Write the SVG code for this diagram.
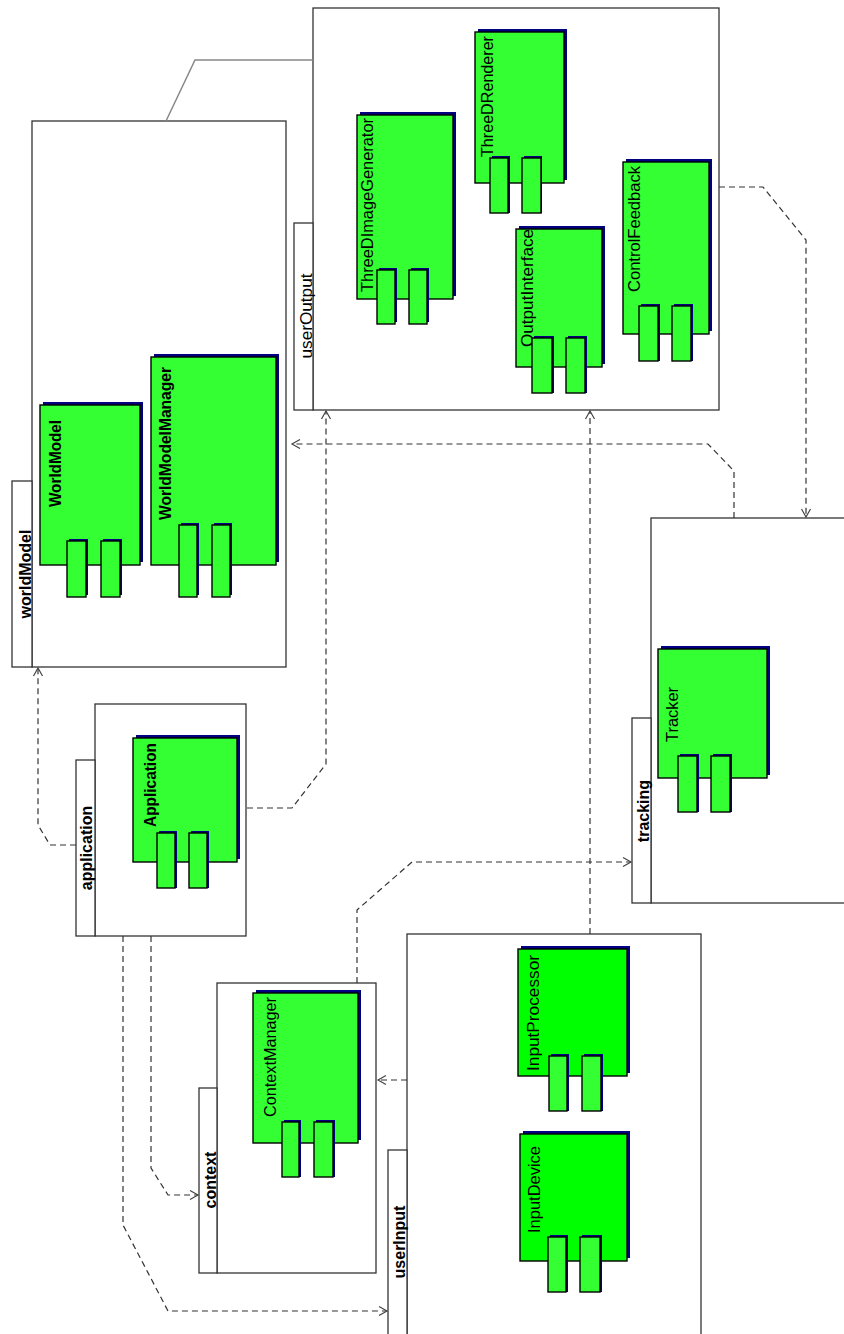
<svg xmlns="http://www.w3.org/2000/svg" width="844" height="1334" viewBox="0 0 844 1334">
<style>
.pkg{fill:#fff;stroke:#333;stroke-width:1.3}
.cmp{fill:#33ff33;stroke:#000;stroke-width:1.4}
.cmp2{fill:#00ff00;stroke:#000;stroke-width:1.4}
.port{fill:#33ff33;stroke:#000;stroke-width:1.4}
.shd{fill:#000080}
.plbl{font-family:"Liberation Sans",Arial,sans-serif;font-size:16px;font-weight:bold;fill:#000}
.plbl.reg{font-weight:normal}
.clbl{font-family:"Liberation Sans",Arial,sans-serif;font-size:16px;fill:#000}
.bold{font-weight:bold}
.dep{fill:none;stroke:#333;stroke-width:1.2;stroke-dasharray:6,4;marker-end:url(#arr)}
</style>
<defs>
<marker id="arr" viewBox="-10 -6 12 12" refX="0" refY="0" markerWidth="12" markerHeight="12" orient="auto" markerUnits="userSpaceOnUse">
<path d="M-8,-4.5 L0,0 L-8,4.5" fill="none" stroke="#444" stroke-width="1.2" stroke-dasharray="none"/>
</marker>
</defs>
<rect width="844" height="1334" fill="#fff"/>

<g id="worldModel">
<rect class="pkg" x="32" y="121" width="254" height="546"/>
<rect class="pkg" x="12" y="481" width="20" height="186"/>
<text class="plbl" transform="translate(31,574) rotate(-90)" text-anchor="middle">worldModel</text>
<g id="WorldModel">
<rect class="shd" x="43" y="402" width="100" height="160"/>
<rect class="cmp" x="40" y="405" width="100" height="160"/>
<rect class="shd" x="69" y="539" width="19" height="56"/><rect class="port" x="67" y="541" width="19" height="56"/>
<rect class="shd" x="103" y="539" width="19" height="56"/><rect class="port" x="101" y="541" width="19" height="56"/>
<text class="clbl bold" transform="translate(61,507) rotate(-90)" textLength="87" lengthAdjust="spacingAndGlyphs">WorldModel</text>
</g>
<g id="WorldModelManager">
<rect class="shd" x="154" y="354" width="125" height="208"/>
<rect class="cmp" x="151" y="357" width="125" height="208"/>
<rect class="shd" x="181" y="523" width="18" height="72"/><rect class="port" x="179" y="525" width="18" height="72"/>
<rect class="shd" x="214" y="523" width="18" height="72"/><rect class="port" x="212" y="525" width="18" height="72"/>
<text class="clbl bold" transform="translate(171,520) rotate(-90)" textLength="153" lengthAdjust="spacingAndGlyphs">WorldModelManager</text>
</g>
</g>

<g id="userOutput">
<rect class="pkg" x="313" y="8" width="406" height="402"/>
<rect class="pkg" x="294" y="223" width="19" height="187"/>
<text class="plbl reg" transform="translate(312,316) rotate(-90)" text-anchor="middle" textLength="85" lengthAdjust="spacingAndGlyphs">userOutput</text>
<g id="ThreeDImageGenerator">
<rect class="shd" x="360" y="112" width="96" height="184"/>
<rect class="cmp" x="357" y="115" width="96" height="184"/>
<rect class="shd" x="379" y="268" width="18" height="54"/><rect class="port" x="377" y="270" width="18" height="54"/>
<rect class="shd" x="411" y="268" width="18" height="54"/><rect class="port" x="409" y="270" width="18" height="54"/>
<text class="clbl" transform="translate(373,292) rotate(-90)" textLength="174" lengthAdjust="spacingAndGlyphs">ThreeDImageGenerator</text>
</g>
<g id="ThreeDRenderer">
<rect class="shd" x="478" y="29" width="89" height="151"/>
<rect class="cmp" x="475" y="32" width="89" height="151"/>
<rect class="shd" x="492" y="156" width="18" height="57"/><rect class="port" x="490" y="158" width="18" height="55"/>
<rect class="shd" x="524" y="156" width="18" height="57"/><rect class="port" x="522" y="158" width="19" height="55"/>
<text class="clbl" transform="translate(493,157) rotate(-90)" textLength="121" lengthAdjust="spacingAndGlyphs">ThreeDRenderer</text>
</g>
<g id="OutputInterface">
<rect class="shd" x="519" y="226" width="86" height="138"/>
<rect class="cmp" x="516" y="229" width="86" height="138"/>
<text class="clbl" transform="translate(533,347) rotate(-90)" textLength="118" lengthAdjust="spacingAndGlyphs">OutputInterface</text>
<rect class="shd" x="534" y="336" width="20" height="57"/><rect class="port" x="532" y="338" width="20" height="55"/>
<rect class="shd" x="568" y="336" width="19" height="57"/><rect class="port" x="566" y="338" width="19" height="55"/>
</g>
<g id="ControlFeedback">
<rect class="shd" x="626" y="159" width="86" height="172"/>
<rect class="cmp" x="623" y="162" width="86" height="172"/>
<rect class="shd" x="641" y="304" width="19" height="57"/><rect class="port" x="639" y="306" width="19" height="55"/>
<rect class="shd" x="674" y="304" width="19" height="57"/><rect class="port" x="672" y="306" width="19" height="55"/>
<text class="clbl" transform="translate(640,292) rotate(-90)" textLength="126" lengthAdjust="spacingAndGlyphs">ControlFeedback</text>
</g>
</g>

<g id="application">
<rect class="pkg" x="95" y="704" width="151" height="232"/>
<rect class="pkg" x="76" y="760" width="19" height="176"/>
<text class="plbl" transform="translate(92,848) rotate(-90)" text-anchor="middle">application</text>
<g id="Application">
<rect class="shd" x="136" y="735" width="104" height="124"/>
<rect class="cmp" x="133" y="738" width="104" height="124"/>
<rect class="shd" x="159" y="831" width="18" height="57"/><rect class="port" x="157" y="833" width="18" height="55"/>
<rect class="shd" x="191" y="831" width="18" height="57"/><rect class="port" x="189" y="833" width="18" height="55"/>
<text class="clbl bold" transform="translate(156,827) rotate(-90)" textLength="84" lengthAdjust="spacingAndGlyphs">Application</text>
</g>
</g>

<g id="tracking">
<rect class="pkg" x="651" y="518" width="200" height="385"/>
<rect class="pkg" x="632" y="718" width="19" height="185"/>
<text class="plbl" transform="translate(649,811) rotate(-90)" text-anchor="middle">tracking</text>
<g id="Tracker">
<rect class="shd" x="661" y="646" width="109" height="129"/>
<rect class="cmp" x="658" y="649" width="109" height="129"/>
<rect class="shd" x="680" y="754" width="19" height="58"/><rect class="port" x="678" y="756" width="19" height="56"/>
<rect class="shd" x="713" y="754" width="19" height="58"/><rect class="port" x="711" y="756" width="19" height="56"/>
<text class="clbl" transform="translate(678,742) rotate(-90)" textLength="55" lengthAdjust="spacingAndGlyphs">Tracker</text>
</g>
</g>

<g id="context">
<rect class="pkg" x="217" y="983" width="159" height="290"/>
<rect class="pkg" x="199" y="1088" width="18" height="185"/>
<text class="plbl" transform="translate(216,1180) rotate(-90)" text-anchor="middle">context</text>
<g id="ContextManager">
<rect class="shd" x="256" y="990" width="105" height="150"/>
<rect class="cmp" x="253" y="993" width="105" height="150"/>
<rect class="shd" x="284" y="1120" width="17" height="57"/><rect class="port" x="282" y="1122" width="17" height="55"/>
<rect class="shd" x="316" y="1120" width="19" height="57"/><rect class="port" x="314" y="1122" width="19" height="55"/>
<text class="clbl" transform="translate(276,1117) rotate(-90)" textLength="120" lengthAdjust="spacingAndGlyphs">ContextManager</text>
</g>
</g>

<g id="userInput">
<rect class="pkg" x="407" y="934" width="294" height="410"/>
<rect class="pkg" x="388" y="1150" width="19" height="194"/>
<text class="plbl" transform="translate(405,1242) rotate(-90)" text-anchor="middle">userInput</text>
<g id="InputProcessor">
<rect class="shd" x="521" y="946" width="109" height="127"/>
<rect class="cmp2" x="518" y="949" width="109" height="127"/>
<rect class="shd" x="551" y="1054" width="18" height="57"/><rect class="port" x="549" y="1056" width="18" height="55"/>
<rect class="shd" x="584" y="1054" width="19" height="57"/><rect class="port" x="582" y="1056" width="19" height="55"/>
<text class="clbl" transform="translate(539,1071) rotate(-90)" textLength="116" lengthAdjust="spacingAndGlyphs">InputProcessor</text>
</g>
<g id="InputDevice">
<rect class="shd" x="523" y="1131" width="107" height="127"/>
<rect class="cmp2" x="520" y="1134" width="107" height="127"/>
<rect class="shd" x="550" y="1235" width="18" height="57"/><rect class="port" x="548" y="1237" width="18" height="55"/>
<rect class="shd" x="582" y="1235" width="20" height="57"/><rect class="port" x="580" y="1237" width="20" height="55"/>
<text class="clbl" transform="translate(540,1233) rotate(-90)" textLength="87" lengthAdjust="spacingAndGlyphs">InputDevice</text>
</g>
</g>

<g id="connectors">
<path d="M313,60 L195,60 L166,121" fill="none" stroke="#888" stroke-width="1.5"/>
<path class="dep" d="M76,845 L50,845 L38,825 L38,668"/>
<path class="dep" d="M247,808 L292,808 L326,764 L326,411"/>
<path class="dep" d="M590,934 L590,411"/>
<path class="dep" d="M719,187 L763,187 L806,240 L806,517"/>
<path class="dep" d="M357,983 L357,910 L412,862 L631,862"/>
<path class="dep" d="M407,1080 L378,1080"/>
<path class="dep" d="M151,936 L151,1168 L168,1195 L198,1195"/>
<path class="dep" d="M123,936 L123,1225 L168,1311 L387,1311"/>
<path class="dep" d="M734,518 L734,471 L708,444 L292,444"/>
</g>
</svg>
